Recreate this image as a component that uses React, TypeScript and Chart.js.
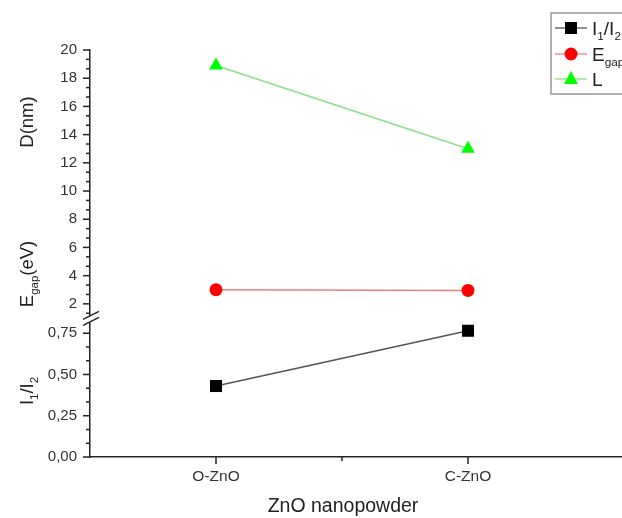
import React, { useEffect, useRef } from 'react';
import { Chart, registerables } from 'chart.js';

Chart.register(...registerables);

const categories = ['O-ZnO', 'C-ZnO'];
const ratioI1I2 = [0.43, 0.765];
const energyGap = [3.0, 2.95];
const sizeL = [18.9, 13.0];
const upperTicks = [2, 4, 6, 8, 10, 12, 14, 16, 18, 20];
const lowerTicks = [0, 0.25, 0.5, 0.75];
const xTickValues = [1, 1.5, 2];

const FONT = '"Liberation Sans", Arial, Helvetica, sans-serif';
const UPPER_MIN = 0.97;
const UPPER_MAX = 20;
const LOWER_MIN = 0;
const LOWER_MAX = 0.84;
const AXIS_COLOR = '#222';

type Part = { t: string; sub?: boolean };

function drawRich(ctx: CanvasRenderingContext2D, parts: Part[], cx: number, cy: number, size: number, rotate: boolean, align: 'center' | 'left' = 'center') {
  ctx.save();
  ctx.translate(cx, cy);
  if (rotate) ctx.rotate(-Math.PI / 2);
  let total = 0;
  const items = parts.map((p) => {
    const fs = p.sub ? size * 0.62 : size;
    ctx.font = `${fs}px ${FONT}`;
    const w = ctx.measureText(p.t).width;
    total += w;
    return { ...p, fs, w };
  });
  let x = align === 'center' ? -total / 2 : 0;
  ctx.textBaseline = 'alphabetic';
  ctx.textAlign = 'left';
  ctx.fillStyle = '#222';
  const base = size * 0.36;
  for (const it of items) {
    ctx.font = `${it.fs}px ${FONT}`;
    ctx.fillText(it.t, x, base + (it.sub ? size * 0.28 : 0));
    x += it.w;
  }
  ctx.restore();
}

function drawMarker(ctx: CanvasRenderingContext2D, style: string, x: number, y: number, color: string) {
  ctx.save();
  ctx.fillStyle = color;
  ctx.beginPath();
  if (style === 'rect') {
    ctx.rect(x - 6, y - 6, 12, 12);
  } else if (style === 'circle') {
    ctx.arc(x, y, 6.5, 0, Math.PI * 2);
  } else {
    ctx.moveTo(x, y - 8);
    ctx.lineTo(x + 7, y + 5);
    ctx.lineTo(x - 7, y + 5);
    ctx.closePath();
  }
  ctx.fill();
  ctx.restore();
}

const decorPlugin = {
  id: 'decor',
  afterDraw(chart: any) {
    const ctx: CanvasRenderingContext2D = chart.ctx;
    const yU = chart.scales.yUpper;
    const yL = chart.scales.yLower;
    const xs = chart.scales.x;
    const axisX = chart.chartArea.left;
    const axisY = chart.chartArea.bottom;
    ctx.save();
    ctx.strokeStyle = AXIS_COLOR;
    ctx.lineWidth = 1.5;
    const tick = (x1: number, y1: number, x2: number, y2: number) => {
      ctx.beginPath();
      ctx.moveTo(x1, y1);
      ctx.lineTo(x2, y2);
      ctx.stroke();
    };
    for (let i = 0; i < 40; i++) {
      const v = 2 + (i - 1) * (2 / 3);
      if (v < UPPER_MIN || v > UPPER_MAX + 0.001) continue;
      const major = Math.abs(v / 2 - Math.round(v / 2)) < 0.01;
      const py = yU.getPixelForValue(v);
      tick(axisX, py, axisX - (major ? 7 : 4), py);
    }
    for (let i = 0; i < 20; i++) {
      const v = i * (0.25 / 3);
      if (v > LOWER_MAX + 0.0001) continue;
      const major = i % 3 === 0;
      const py = yL.getPixelForValue(v);
      tick(axisX, py, axisX - (major ? 7 : 4), py);
    }
    for (const v of xTickValues) {
      const px = xs.getPixelForValue(v);
      const major = Math.abs(v - Math.round(v)) < 0.01;
      tick(px, axisY, px, axisY + (major ? 7 : 4));
    }
    const by = yL.top;
    ctx.fillStyle = '#fff';
    ctx.beginPath();
    ctx.moveTo(axisX - 7, by + 1);
    ctx.lineTo(axisX + 9, by - 7);
    ctx.lineTo(axisX + 9, by - 1);
    ctx.lineTo(axisX - 7, by + 7);
    ctx.closePath();
    ctx.fill();
    ctx.lineWidth = 1.3;
    tick(axisX - 7, by + 1, axisX + 9, by - 7);
    tick(axisX - 7, by + 7, axisX + 9, by - 1);
    ctx.restore();

    drawRich(ctx, [{ t: 'D(nm)' }], 26, 122, 18.5, true);
    drawRich(ctx, [{ t: 'E' }, { t: 'gap', sub: true }, { t: '(eV)' }], 26, 274, 18.5, true);
    drawRich(ctx, [{ t: 'I' }, { t: '1', sub: true }, { t: '/I' }, { t: '2', sub: true }], 26, 391, 18.5, true);
    drawRich(ctx, [{ t: 'ZnO nanopowder' }], 343, 505, 19.5, false);

    ctx.save();
    ctx.fillStyle = '#fff';
    ctx.strokeStyle = '#888';
    ctx.lineWidth = 1.3;
    ctx.fillRect(551, 13, 90, 81);
    ctx.strokeRect(551, 13, 90, 81);
    const rows = [
      { y: 28, line: '#555', color: '#000', style: 'rect', parts: [{ t: 'I' }, { t: '1', sub: true }, { t: '/I' }, { t: '2', sub: true }] },
      { y: 54, line: '#e88080', color: '#ff0000', style: 'circle', parts: [{ t: 'E' }, { t: 'gap', sub: true }] },
      { y: 79, line: '#88e088', color: '#00ff00', style: 'triangle', parts: [{ t: 'L' }] },
    ];
    for (const r of rows) {
      ctx.strokeStyle = r.line;
      ctx.lineWidth = 1.3;
      ctx.beginPath();
      ctx.moveTo(555, r.y);
      ctx.lineTo(587, r.y);
      ctx.stroke();
      drawMarker(ctx, r.style, 571, r.y, r.color);
      drawRich(ctx, r.parts as Part[], 592, r.y, 19, false, 'left');
    }
    ctx.restore();
  },
};

export default function App() {
  const ref = useRef<HTMLCanvasElement | null>(null);
  useEffect(() => {
    if (!ref.current) return;
    const xy = (vals: number[]) => vals.map((v, i) => ({ x: i + 1, y: v }));
    const yTickFont = { family: FONT, size: 15 };
    const chart = new Chart(ref.current, {
      type: 'line',
      data: {
        datasets: [
          {
            label: 'I1/I2',
            data: xy(ratioI1I2),
            yAxisID: 'yLower',
            borderColor: '#555',
            backgroundColor: '#000',
            pointBorderColor: '#000',
            pointStyle: 'rect',
            pointRadius: 8.5,
            borderWidth: 1.5,
            pointBorderWidth: 0,
          },
          {
            label: 'Egap',
            data: xy(energyGap),
            yAxisID: 'yUpper',
            borderColor: '#e88080',
            backgroundColor: '#ff0000',
            pointBorderColor: '#ff0000',
            pointStyle: 'circle',
            pointRadius: 6.5,
            borderWidth: 1.5,
            pointBorderWidth: 0,
          },
          {
            label: 'L',
            data: xy(sizeL),
            yAxisID: 'yUpper',
            borderColor: '#88e088',
            backgroundColor: '#00ff00',
            pointBorderColor: '#00ff00',
            pointStyle: 'triangle',
            pointRadius: 8,
            borderWidth: 1.5,
            pointBorderWidth: 0,
          },
        ],
      },
      options: {
        responsive: false,
        animation: false,
        devicePixelRatio: 1,
        clip: false as any,
        layout: { autoPadding: false, padding: { top: 50, left: 0, right: 0, bottom: 0 } },
        plugins: { legend: { display: false }, tooltip: { enabled: false } },
        scales: {
          x: {
            type: 'linear',
            min: 0.5,
            max: 0.5 + 532 / 252,
            afterBuildTicks: (s: any) => {
              s.ticks = xTickValues.map((v) => ({ value: v }));
            },
            afterFit: (s: any) => {
              s.height = 61;
              s.paddingLeft = 0;
              s.paddingRight = 0;
            },
            ticks: {
              padding: 10,
              color: '#333',
              font: { family: FONT, size: 15.5 },
              maxRotation: 0,
              autoSkip: false,
              callback: (v: any) => {
                const n = Number(v);
                const idx = Math.round(n) - 1;
                return Math.abs(n - Math.round(n)) < 0.01 ? categories[idx] ?? '' : '';
              },
            },
            grid: { display: true, drawOnChartArea: false, drawTicks: false },
            border: { display: true, color: AXIS_COLOR, width: 1.5 },
          },
          yLower: {
            type: 'linear',
            position: 'left',
            stack: 'y',
            stackWeight: (LOWER_MAX - LOWER_MIN) * 165,
            min: LOWER_MIN,
            max: LOWER_MAX,
            afterBuildTicks: (s: any) => {
              s.ticks = lowerTicks.map((v) => ({ value: v }));
            },
            afterFit: (s: any) => {
              s.width = 90;
              s.paddingTop = 0;
              s.paddingBottom = 0;
            },
            ticks: {
              padding: 13,
              color: '#333',
              font: yTickFont,
              autoSkip: false,
              callback: (v: any) => Number(v).toFixed(2).replace('.', ','),
            },
            grid: { display: true, drawOnChartArea: false, drawTicks: false },
            border: { display: true, color: AXIS_COLOR, width: 1.5 },
          },
          yUpper: {
            type: 'linear',
            position: 'left',
            stack: 'y',
            stackWeight: (UPPER_MAX - UPPER_MIN) * 14.1,
            min: UPPER_MIN,
            max: UPPER_MAX,
            afterBuildTicks: (s: any) => {
              s.ticks = upperTicks.map((v) => ({ value: v }));
            },
            afterFit: (s: any) => {
              s.width = 90;
              s.paddingTop = 0;
              s.paddingBottom = 0;
            },
            ticks: {
              padding: 13,
              color: '#333',
              font: yTickFont,
              autoSkip: false,
              callback: (v: any) => String(v),
            },
            grid: { display: true, drawOnChartArea: false, drawTicks: false },
            border: { display: true, color: AXIS_COLOR, width: 1.5 },
          },
        },
      } as any,
      plugins: [decorPlugin],
    });
    return () => chart.destroy();
  }, []);
  return (
    <div style={{ position: 'absolute', left: 0, top: 0, width: 622, height: 518, background: '#fff' }}>
      <canvas ref={ref} width={622} height={518} />
    </div>
  );
}
